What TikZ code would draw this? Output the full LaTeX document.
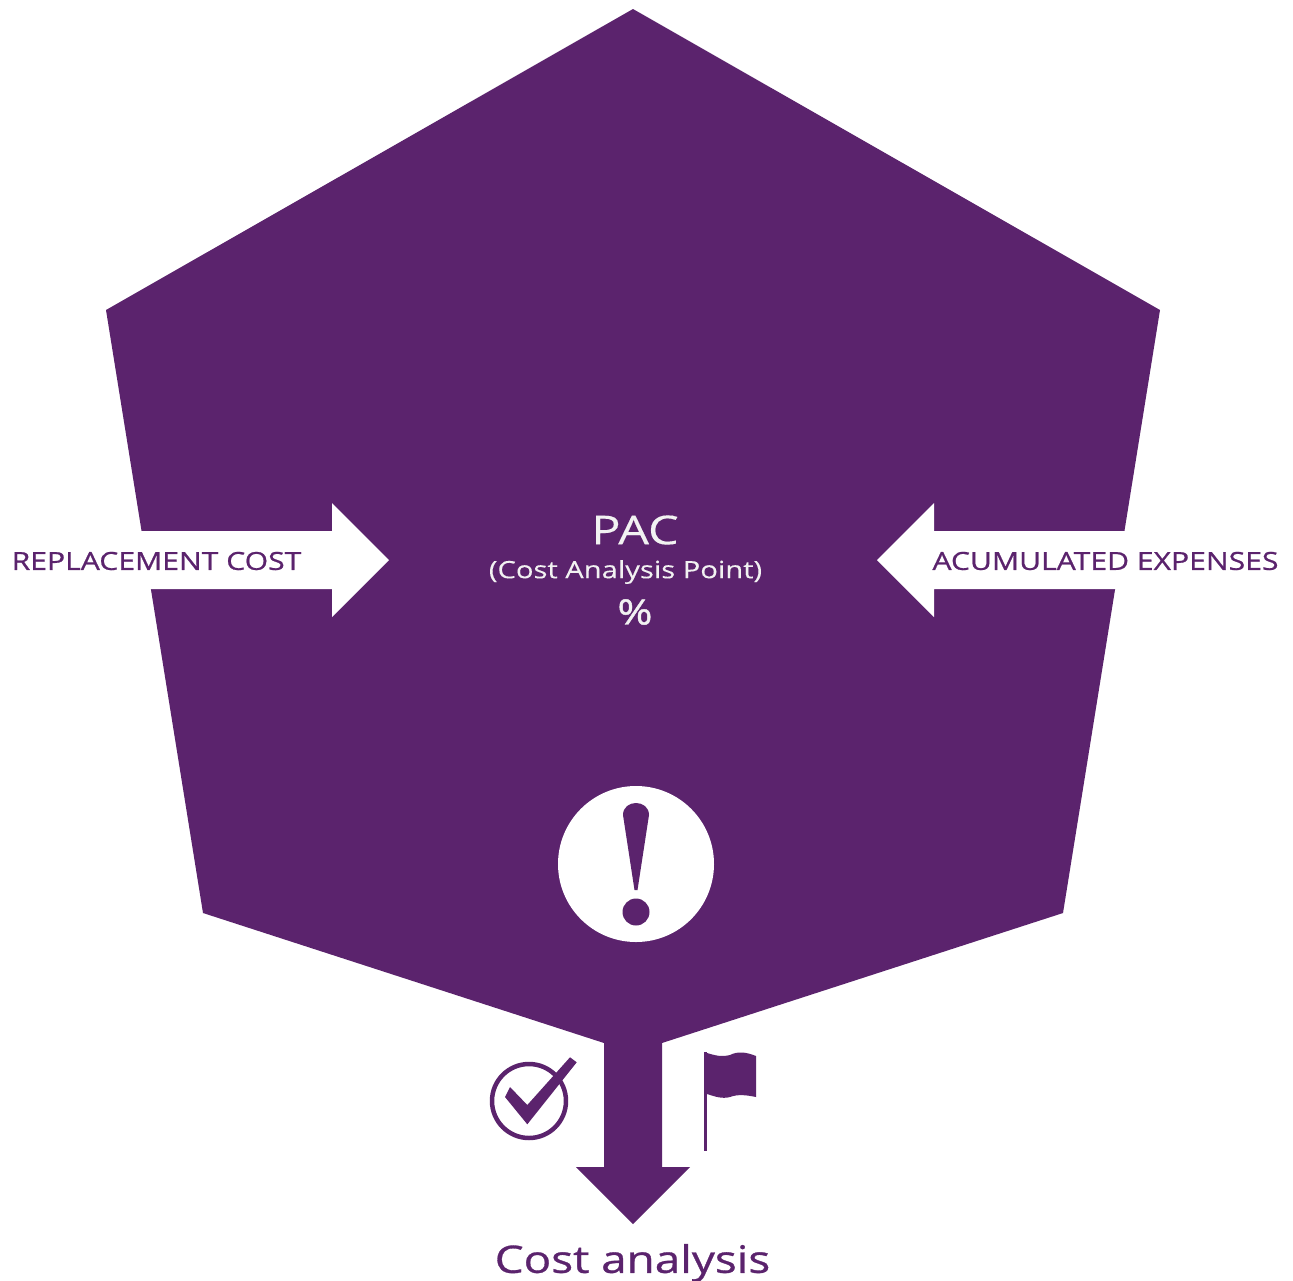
\documentclass[tikz,border=0pt]{standalone}
\usepackage{fontspec}
\setmainfont{Open Sans}
\newfontfamily\widefont[FakeStretch=1.22,FakeBold=0.2]{Open Sans}
\newfontfamily\widebold[FakeStretch=1.22,FakeBold=1.2]{Open Sans}
\newfontfamily\widemed[FakeStretch=1.21,FakeBold=0.8]{Open Sans}
\definecolor{pacpurple}{HTML}{5B236D}
\definecolor{pacwhite}{HTML}{F2F2F2}
\tikzset{
  shapefill/.style={fill=pacpurple,draw=none},
  cutfill/.style={fill=white,draw=none},
  inner/.style={text=pacwhite,inner sep=0pt,anchor=center},
  outer/.style={text=pacpurple,inner sep=0pt,anchor=center}
}
\begin{document}
\begin{tikzpicture}[x=1bp,y=-1bp]
\useasboundingbox (0,0) rectangle (1293,1281);
\fill[white] (0,0) rectangle (1293,1281);
% main hexagon with arrow
\path[shapefill] (633,9) -- (1160,310) -- (1063,913) -- (662,1043) -- (662,1167) -- (690,1167) -- (633,1224) -- (576,1167) -- (604,1167) -- (604,1043) -- (203,913) -- (106,310) -- cycle;
% white arrows
\path[cutfill] (100,531) -- (332,531) -- (332,503) -- (389,560) -- (332,617) -- (332,589) -- (100,589) -- cycle;
\path[cutfill] (1170,531) -- (934,531) -- (934,503) -- (877,560) -- (934,617) -- (934,589) -- (1170,589) -- cycle;
% labels
\node[outer,font=\widemed\fontsize{25}{25}\selectfont] (repl) at (156.5,561) {REPLACEMENT COST};
\node[outer,font=\widemed\fontsize{25}{25}\selectfont] (acum) at (1105.5,561) {ACUMULATED EXPENSES};
\node[inner,font=\widefont\fontsize{40}{40}\selectfont] (pac) at (635,530) {PAC};
\node[inner,font=\widefont\fontsize{24}{24}\selectfont] (cap) at (625.5,572) {(Cost Analysis Point)};
\node[inner,font=\widebold\fontsize{35}{35}\selectfont] (pct) at (635,612) {\%};
\node[outer,font=\widemed\fontsize{38}{38}\selectfont] (cost) at (632.5,1263) {Cost analysis};
% exclamation icon
\fill[white] (636,864) circle (78);
\fill[pacpurple] (623,815) .. controls (623,799) and (649,799) .. (649,815) -- (637.5,890) -- (634.5,890) -- cycle;
\fill[pacpurple] (636,912) circle (13.5);
% check icon
\draw[pacpurple,line width=4.5] (529,1101) circle (37);
\fill[pacpurple] (505,1097) -- (510,1087) -- (527.3,1105) -- (570,1057.3) -- (576.7,1062.3) -- (527.3,1124.3) -- cycle;
% flag icon
\fill[pacpurple] (704,1052) -- (707,1052) -- (707,1151) -- (704,1151) -- cycle;
\fill[pacpurple] (704,1052) .. controls (716,1056) and (722,1057) .. (730,1055) .. controls (738,1051) and (746,1052) .. (756,1056) -- (756,1097) .. controls (746,1095) and (738,1094) .. (730,1097) .. controls (722,1099) and (716,1097) .. (704,1093) -- cycle;
\end{tikzpicture}
\end{document}
